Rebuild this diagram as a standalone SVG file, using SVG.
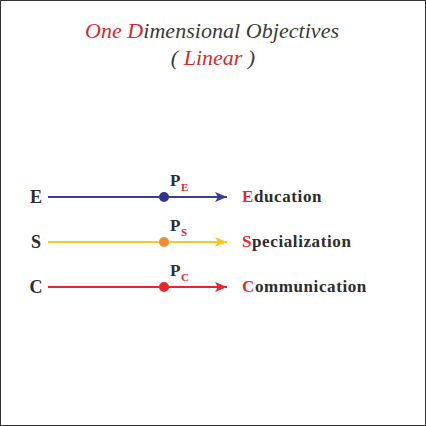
<svg xmlns="http://www.w3.org/2000/svg" width="426" height="426" viewBox="0 0 426 426">
<style>
.title{font-family:"Liberation Serif","DejaVu Serif",serif;font-style:italic;font-size:22px;fill:#3a3a3a;}
.red{fill:#d42a2f;}
.lbl{font-family:"Liberation Serif","DejaVu Serif",serif;font-weight:bold;font-size:18px;fill:#2d2d2d;}
.word{font-family:"Liberation Serif","DejaVu Serif",serif;font-weight:bold;font-size:17px;fill:#2d2d2d;letter-spacing:0.6px;}
.p{font-family:"Liberation Serif","DejaVu Serif",serif;font-weight:bold;font-size:17px;fill:#2d2d2d;}
.sub{font-family:"Liberation Serif","DejaVu Serif",serif;font-weight:bold;font-size:11px;fill:#e8262b;}
.tr{fill:#e8262b;}
</style>
<defs>
<marker id="ab" markerWidth="12" markerHeight="10" refX="12" refY="5" orient="auto" markerUnits="userSpaceOnUse"><path d="M0,0 L12,5 L0,10 L3,5 Z" fill="#393d95"/></marker>
<marker id="ay" markerWidth="12" markerHeight="10" refX="12" refY="5" orient="auto" markerUnits="userSpaceOnUse"><path d="M0,0 L12,5 L0,10 L3,5 Z" fill="#f9c623"/></marker>
<marker id="ar" markerWidth="12" markerHeight="10" refX="12" refY="5" orient="auto" markerUnits="userSpaceOnUse"><path d="M0,0 L12,5 L0,10 L3,5 Z" fill="#e8262b"/></marker>
</defs>
<rect x="0.5" y="0.5" width="425" height="425" fill="#fff" stroke="#333" stroke-width="1"/>
<g id="title">
<text class="title" x="212" y="38" text-anchor="middle" textLength="254" lengthAdjust="spacing"><tspan class="red">One</tspan> <tspan class="red">D</tspan>imensional Objectives</text>
<text class="title" x="213" y="65" text-anchor="middle">( <tspan class="red">Linear</tspan> )</text>
</g>
<g id="connectors">
<line x1="48" y1="197" x2="227" y2="197" stroke="#393d95" stroke-width="2" marker-end="url(#ab)"/>
<line x1="48" y1="242" x2="227" y2="242" stroke="#f9c623" stroke-width="2" marker-end="url(#ay)"/>
<line x1="48" y1="287" x2="227" y2="287" stroke="#e8262b" stroke-width="2" marker-end="url(#ar)"/>
</g>
<g id="row-E">
<text class="lbl" x="36" y="203" text-anchor="middle">E</text>
<circle cx="164" cy="197" r="5" fill="#2f3490"/>
<text class="p" x="170" y="186">P</text><text class="sub" x="181" y="191">E</text>
<text class="word" x="242" y="202"><tspan class="tr">E</tspan>ducation</text>
</g>
<g id="row-S">
<text class="lbl" x="36" y="248" text-anchor="middle">S</text>
<circle cx="164" cy="242" r="5" fill="#f48c2f"/>
<text class="p" x="170" y="231">P</text><text class="sub" x="181" y="236">S</text>
<text class="word" x="242" y="247"><tspan class="tr">S</tspan>pecialization</text>
</g>
<g id="row-C">
<text class="lbl" x="36" y="293" text-anchor="middle">C</text>
<circle cx="164" cy="287" r="5" fill="#e8262b"/>
<text class="p" x="170" y="276">P</text><text class="sub" x="181" y="281">C</text>
<text class="word" x="242" y="292"><tspan class="tr">C</tspan>ommunication</text>
</g>
</svg>
